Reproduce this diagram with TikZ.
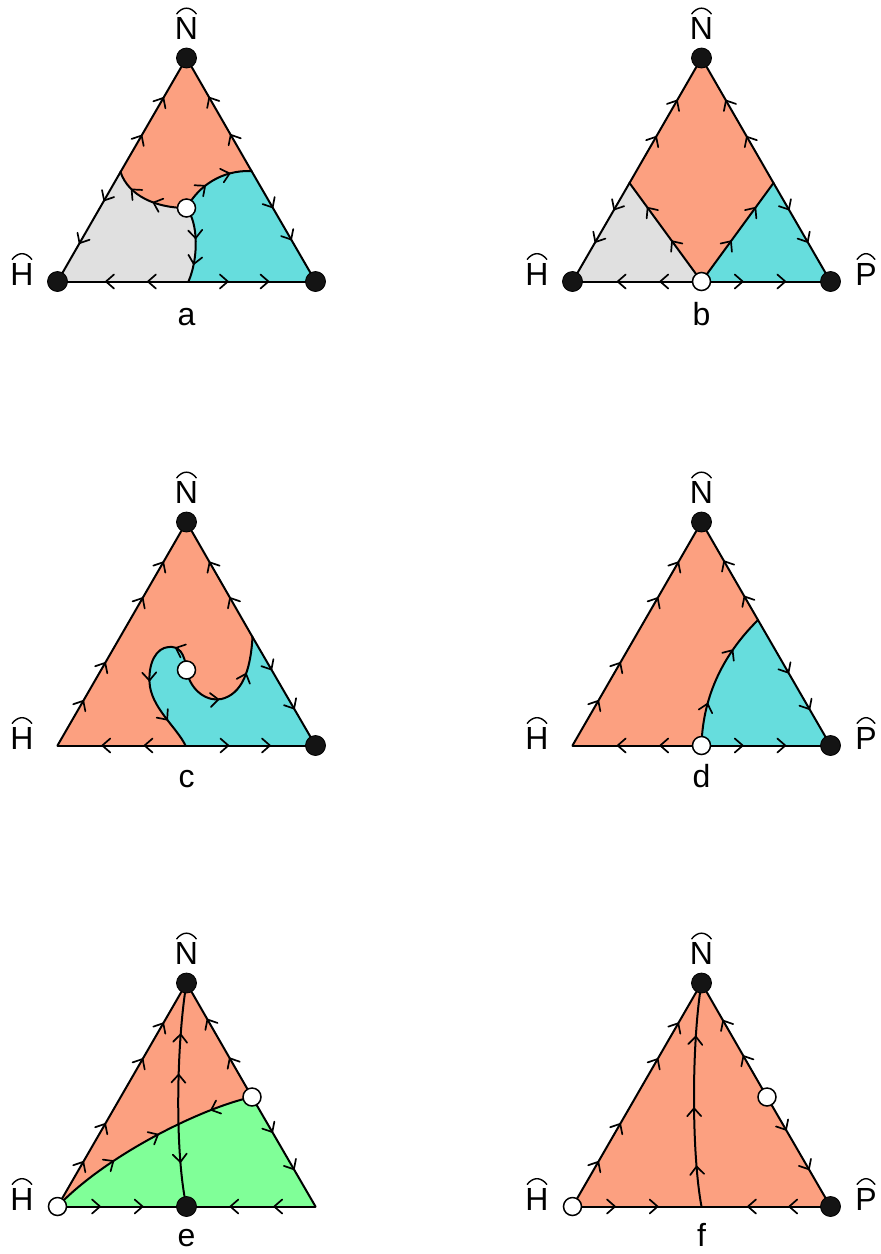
\documentclass[tikz,border=0pt]{standalone}
\usepackage{fontspec}
\setmainfont{Liberation Sans}
\usetikzlibrary{decorations.markings}
\definecolor{salmonc}{RGB}{252,160,128}
\definecolor{cyanc}{RGB}{102,221,221}
\definecolor{grayc}{RGB}{224,224,224}
\definecolor{greenc}{RGB}{128,255,152}
\tikzset{
  edge/.style={line width=2pt, line cap=round, line join=round},
  chev/.style={line width=1.7pt, line cap=round, line join=round, solid},
  am/.style={postaction={decorate,decoration={markings,mark=at position #1 with {\draw[chev] (-8pt,7pt)--(0pt,0pt)--(-8pt,-7pt);}}}},
  amr/.style={postaction={decorate,decoration={markings,mark=at position #1 with {\draw[chev] (8pt,7pt)--(0pt,0pt)--(8pt,-7pt);}}}},
  sink/.style={circle, fill=black!92, draw=black, line width=0.8pt, minimum size=20pt, inner sep=0pt},
  source/.style={circle, fill=white, draw=black, line width=1.5pt, minimum size=18pt, inner sep=0pt},
  lbl/.style={font=\fontsize{32}{36}\selectfont, inner sep=0pt},
  hatline/.style={line width=1.4pt, line cap=round},
}
\newcommand\hatlbl[3]{%
  \node[lbl] (#1) at (#2) {#3};
  \draw[hatline] ([xshift=2pt,yshift=3.5pt]#1.north west) .. controls ([xshift=8pt,yshift=11pt]#1.north west) and ([xshift=-8pt,yshift=11pt]#1.north east) .. ([xshift=-2pt,yshift=3.5pt]#1.north east);}
\begin{document}
\begin{tikzpicture}[x=1pt,y=-1pt]
\path[use as bounding box, fill=white] (0,0) rectangle (881,1254);

% ---------------- panel a ----------------
\begin{scope}[shift={(186.5,58)}]
\coordinate (aN) at (0,0); \coordinate (aH) at (-129,223.5); \coordinate (aP) at (129,223.5);
\coordinate (aL) at (-66,114); \coordinate (aR) at (65,113); \coordinate (aC) at (0,150); \coordinate (aB) at (2,223.5);
\fill[salmonc] (aN) -- (aL) .. controls (-58,138) and (-30,150) .. (aC) .. controls (12,128) and (35,112) .. (aR) -- cycle;
\fill[grayc] (aH) -- (aL) .. controls (-58,138) and (-30,150) .. (aC) .. controls (12,165) and (12,200) .. (aB) -- cycle;
\fill[cyanc] (aP) -- (aR) .. controls (35,112) and (12,128) .. (aC) .. controls (12,165) and (12,200) .. (aB) -- cycle;
\draw[edge, am=0.32, am=0.65] (aL) -- (aN);
\draw[edge, am=0.26, am=0.65] (aL) -- (aH);
\draw[edge, am=0.32, am=0.65] (aR) -- (aN);
\draw[edge, am=0.33, am=0.62] (aR) -- (aP);
\draw[edge, am=0.31, am=0.63] (aB) -- (aH);
\draw[edge, am=0.31, am=0.63] (aB) -- (aP);
\draw[edge, am=0.42, am=0.74] (aC) .. controls (-30,150) and (-58,138) .. (aL);
\draw[edge, am=0.37, am=0.72] (aC) .. controls (12,128) and (35,112) .. (aR);
\draw[edge, am=0.42, am=0.76] (aC) .. controls (12,165) and (12,200) .. (aB);
\node[sink] (aNd) at (aN) {}; \node[sink] (aHd) at (aH) {}; \node[sink] (aPd) at (aP) {};
\node[source] (aCd) at (aC) {};
\hatlbl{aNl}{0,-29.5}{N}
\hatlbl{aHl}{-164.5,216}{H}
\node[lbl, anchor=base] (alet) at (0,267) {a};
\end{scope}

% ---------------- panel b ----------------
\begin{scope}[shift={(701.5,58)}]
\coordinate (bN) at (0,0); \coordinate (bH) at (-129,223.5); \coordinate (bP) at (129,223.5);
\coordinate (bL) at (-72,125); \coordinate (bR) at (72,125); \coordinate (bC) at (0,223.5);
\fill[salmonc] (bN) -- (bL) -- (bC) -- (bR) -- cycle;
\fill[grayc] (bH) -- (bL) -- (bC) -- cycle;
\fill[cyanc] (bP) -- (bR) -- (bC) -- cycle;
\draw[edge, am=0.37, am=0.66] (bL) -- (bN);
\draw[edge, am=0.27, am=0.6] (bL) -- (bH);
\draw[edge, am=0.37, am=0.66] (bR) -- (bN);
\draw[edge, am=0.27, am=0.6] (bR) -- (bP);
\draw[edge, am=0.41, am=0.75] (bC) -- (bL);
\draw[edge, am=0.41, am=0.75] (bC) -- (bR);
\draw[edge, am=0.32, am=0.65] (bC) -- (bH);
\draw[edge, am=0.32, am=0.65] (bC) -- (bP);
\node[sink] (bNd) at (bN) {}; \node[sink] (bHd) at (bH) {}; \node[sink] (bPd) at (bP) {};
\node[source] (bCd) at (bC) {};
\hatlbl{bNl}{0,-29.5}{N}
\hatlbl{bHl}{-164.5,216}{H}
\hatlbl{bPl}{164.5,216}{P}
\node[lbl, anchor=base] (blet) at (0,267) {b};
\end{scope}

% ---------------- panel c ----------------
\begin{scope}[shift={(186.5,522)}]
\coordinate (cN) at (0,0); \coordinate (cH) at (-129,223.5); \coordinate (cP) at (129,223.5);
\coordinate (cC) at (0,148); \coordinate (cR) at (66,115); \coordinate (cB) at (-1,223.5);
\fill[salmonc] (cN) -- (cH) -- (cP) -- cycle;
\fill[cyanc] (cB) -- (cP) -- (cR) .. controls (64,150) and (55,172) .. (35,177) .. controls (22,180) and (4,170) .. (cC)
  .. controls (-2,130) and (-8,124) .. (-18,125) .. controls (-30,126) and (-38,140) .. (-37,160) .. controls (-36,185) and (-10,205) .. (cB) -- cycle;
\draw[edge, am=0.2, am=0.37, am=0.66, am=0.82] (cH) -- (cN);
\draw[edge, am=0.34, am=0.65] (cR) -- (cN);
\draw[edge, am=0.3, am=0.66] (cR) -- (cP);
\draw[edge, am=0.32, am=0.65] (cB) -- (cH);
\draw[edge, am=0.33, am=0.65] (cB) -- (cP);
\draw[edge, am=0.38, am=0.7] (cC) .. controls (4,170) and (22,180) .. (35,177) .. controls (55,172) and (64,150) .. (cR);
\draw[edge, am=0.17, am=0.5, am=0.79] (cC) .. controls (-2,130) and (-8,124) .. (-18,125) .. controls (-30,126) and (-38,140) .. (-37,160) .. controls (-36,185) and (-10,205) .. (cB);
\node[sink] (cNd) at (cN) {}; \node[sink] (cPd) at (cP) {};
\node[source] (cCd) at (cC) {};
\hatlbl{cNl}{0,-29.5}{N}
\hatlbl{cHl}{-164.5,216}{H}
\node[lbl, anchor=base] (clet) at (0,265) {c};
\end{scope}

% ---------------- panel d ----------------
\begin{scope}[shift={(701.5,522)}]
\coordinate (dN) at (0,0); \coordinate (dH) at (-129,223.5); \coordinate (dP) at (129,223.5);
\coordinate (dC) at (0,223.5); \coordinate (dR) at (56.5,98);
\fill[salmonc] (dN) -- (dH) -- (dC) .. controls (1,185) and (14,140) .. (dR) -- cycle;
\fill[cyanc] (dC) -- (dP) -- (dR) .. controls (14,140) and (1,185) .. (dC) -- cycle;
\draw[edge, am=0.2, am=0.37, am=0.66, am=0.82] (dH) -- (dN);
\draw[edge, am=0.24, am=0.6] (dR) -- (dN);
\draw[edge, am=0.42, am=0.71] (dR) -- (dP);
\draw[edge, am=0.32, am=0.65] (dC) -- (dH);
\draw[edge, am=0.32, am=0.65] (dC) -- (dP);
\draw[edge, am=0.3, am=0.72] (dC) .. controls (1,185) and (14,140) .. (dR);
\node[sink] (dNd) at (dN) {}; \node[sink] (dPd) at (dP) {};
\node[source] (dCd) at (dC) {};
\hatlbl{dNl}{0,-29.5}{N}
\hatlbl{dHl}{-164.5,216}{H}
\hatlbl{dPl}{164.5,216}{P}
\node[lbl, anchor=base] (dlet) at (0,265) {d};
\end{scope}

% ---------------- panel e ----------------
\begin{scope}[shift={(186.5,983)}]
\coordinate (eN) at (0,0); \coordinate (eH) at (-129,223.5); \coordinate (eP) at (129,223.5);
\coordinate (eM) at (0,223.5); \coordinate (eR) at (65.5,114);
\fill[salmonc] (eN) -- (eH) .. controls (-80,172) and (15,125) .. (eR) -- cycle;
\fill[greenc] (eH) -- (eP) -- (eR) .. controls (15,125) and (-80,172) .. (eH) -- cycle;
\draw[edge, am=0.2, am=0.37, am=0.66, am=0.82] (eH) -- (eN);
\draw[edge, am=0.34, am=0.68] (eR) -- (eN);
\draw[edge, am=0.32, am=0.66] (eR) -- (eP);
\draw[edge, am=0.33, am=0.66] (eH) -- (eM);
\draw[edge, am=0.32, am=0.66] (eP) -- (eM);
\draw[edge, am=0.19, amr=0.45, amr=0.68] (eR) .. controls (15,125) and (-80,172) .. (eH);
\draw[edge, amr=0.23, amr=0.41, am=0.8] (eN) .. controls (-10,60) and (-12,170) .. (eM);
\node[sink] (eNd) at (eN) {}; \node[sink] (eMd) at (eM) {};
\node[source] (eHd) at (eH) {}; \node[source] (eRd) at (eR) {};
\hatlbl{eNl}{0,-29.5}{N}
\hatlbl{eHl}{-164.5,216}{H}
\node[lbl, anchor=base] (elet) at (0,263) {e};
\end{scope}

% ---------------- panel f ----------------
\begin{scope}[shift={(701.5,983)}]
\coordinate (fN) at (0,0); \coordinate (fH) at (-129,223.5); \coordinate (fP) at (129,223.5);
\coordinate (fM) at (0,223.5); \coordinate (fR) at (65.5,114);
\fill[salmonc] (fN) -- (fH) -- (fP) -- cycle;
\draw[edge, am=0.2, am=0.37, am=0.66, am=0.82] (fH) -- (fN);
\draw[edge, am=0.36, am=0.67] (fR) -- (fN);
\draw[edge, am=0.3, am=0.66] (fR) -- (fP);
\draw[edge, am=0.33, am=0.66] (fH) -- (fM);
\draw[edge, am=0.32, am=0.64] (fP) -- (fM);
\draw[edge, am=0.18, am=0.44, am=0.76] (fM) .. controls (-10,170) and (-10,60) .. (fN);
\node[sink] (fNd) at (fN) {}; \node[sink] (fPd) at (fP) {};
\node[source] (fHd) at (fH) {}; \node[source] (fRd) at (fR) {};
\hatlbl{fNl}{0,-29.5}{N}
\hatlbl{fHl}{-164.5,216}{H}
\hatlbl{fPl}{164.5,216}{P}
\node[lbl, anchor=base] (flet) at (0,263) {f};
\end{scope}
\end{tikzpicture}
\end{document}
